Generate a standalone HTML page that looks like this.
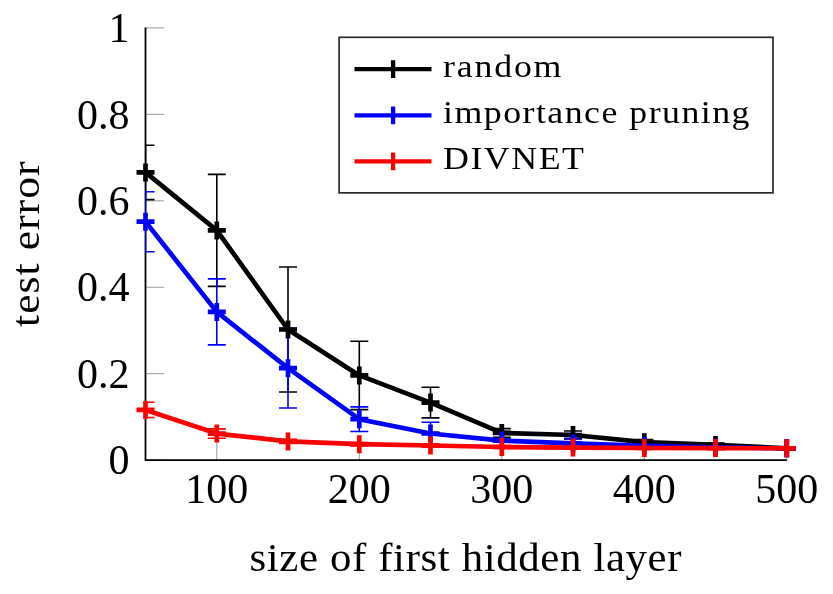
<!DOCTYPE html>
<html><head><meta charset="utf-8"><title>chart</title>
<style>html,body{margin:0;padding:0;background:#fff}body{width:833px;height:594px;position:relative;overflow:hidden;font-family:"Liberation Serif",serif}</style>
</head><body>
<svg width="833" height="594" viewBox="0 0 833 594" style="position:absolute;left:0;top:0;will-change:transform">
<defs><clipPath id="c"><rect x="145.2" y="27.95" width="644.3" height="432.2"/></clipPath></defs>
<path d="M145.5 460.1H164.2M145.5 373.7H164.2M145.5 287.3H164.2M145.5 200.8H164.2M145.5 114.4H164.2M145.5 27.9H164.2M216.8 460.15V441.45M359.3 460.15V441.45M501.8 460.15V441.45M644.3 460.15V441.45M786.8 460.15V441.45" stroke="#808080" stroke-width="0.8" fill="none"/>
<path d="M145.5 27.55V460.15H786.8" stroke="#000" stroke-width="1.8" fill="none" stroke-linecap="butt" stroke-linejoin="round"/>
<polyline points="145.5,172.4 216.8,230.4 288.0,329.5 359.3,375.4 430.5,402.6 501.8,432.9 573.0,435.0 644.3,442.2 715.5,444.9 786.8,448.3" stroke="#000000" stroke-width="4.7" fill="none" stroke-linejoin="round" clip-path="url(#c)"/>
<path d="M145.5 145.2V199.6M136.5 145.2H154.5M136.5 199.6H154.5M216.8 174.4V286.4M207.8 174.4H225.8M207.8 286.4H225.8M288.0 267.0V392.0M279.0 267.0H297.0M279.0 392.0H297.0M359.3 341.2V409.6M350.3 341.2H368.3M350.3 409.6H368.3M430.5 387.3V417.9M421.5 387.3H439.5M421.5 417.9H439.5M501.8 428.6V437.2M492.8 428.6H510.8M492.8 437.2H510.8M573.0 431.0V439.0M564.0 431.0H582.0M564.0 439.0H582.0M644.3 439.6V444.8M635.3 439.6H653.3M635.3 444.8H653.3M715.5 443.3V446.5M706.5 443.3H724.5M706.5 446.5H724.5M786.8 447.5V449.1M777.8 447.5H795.8M777.8 449.1H795.8" stroke="#000000" stroke-width="1.6" fill="none" clip-path="url(#c)"/>

<polyline points="145.5,221.7 216.8,311.9 288.0,368.2 359.3,419.2 430.5,433.5 501.8,440.6 573.0,443.4 644.3,445.8 715.5,447.4 786.8,448.3" stroke="#0000ff" stroke-width="4.7" fill="none" stroke-linejoin="round" clip-path="url(#c)"/>
<path d="M145.5 191.7V251.7M136.5 191.7H154.5M136.5 251.7H154.5M216.8 278.9V344.9M207.8 278.9H225.8M207.8 344.9H225.8M288.0 328.4V408.0M279.0 328.4H297.0M279.0 408.0H297.0M359.3 406.9V431.5M350.3 406.9H368.3M350.3 431.5H368.3M430.5 422.2V444.8M421.5 422.2H439.5M421.5 444.8H439.5M501.8 439.1V442.1M492.8 439.1H510.8M492.8 442.1H510.8M573.0 438.6V448.2M564.0 438.6H582.0M564.0 448.2H582.0M644.3 444.3V447.3M635.3 444.3H653.3M635.3 447.3H653.3M715.5 446.4V448.4M706.5 446.4H724.5M706.5 448.4H724.5M786.8 447.8V448.8M777.8 447.8H795.8M777.8 448.8H795.8" stroke="#0000ff" stroke-width="1.6" fill="none" clip-path="url(#c)"/>

<polyline points="145.5,409.9 216.8,433.6 288.0,441.4 359.3,444.2 430.5,445.5 501.8,447.0 573.0,447.6 644.3,448.0 715.5,448.1 786.8,448.3" stroke="#ff0000" stroke-width="4.7" fill="none" stroke-linejoin="round" clip-path="url(#c)"/>
<path d="M145.5 402.3V417.5M136.5 402.3H154.5M136.5 417.5H154.5M216.8 428.9V438.3M207.8 428.9H225.8M207.8 438.3H225.8M288.0 439.4V443.4M279.0 439.4H297.0M279.0 443.4H297.0M359.3 442.7V445.7M350.3 442.7H368.3M350.3 445.7H368.3M430.5 444.3V446.7M421.5 444.3H439.5M421.5 446.7H439.5M501.8 446.0V448.0M492.8 446.0H510.8M492.8 448.0H510.8M573.0 446.8V448.4M564.0 446.8H582.0M564.0 448.4H582.0M644.3 447.4V448.6M635.3 447.4H653.3M635.3 448.6H653.3M715.5 447.6V448.6M706.5 447.6H724.5M706.5 448.6H724.5M786.8 447.9V448.7M777.8 447.9H795.8M777.8 448.7H795.8" stroke="#ff0000" stroke-width="1.6" fill="none" clip-path="url(#c)"/>

<path d="M136.5 172.4H154.5M145.5 163.4V181.4M207.8 230.4H225.8M216.8 221.4V239.4M279.0 329.5H297.0M288.0 320.5V338.5M350.3 375.4H368.3M359.3 366.4V384.4M421.5 402.6H439.5M430.5 393.6V411.6M492.8 432.9H510.8M501.8 423.9V441.9M564.0 435.0H582.0M573.0 426.0V444.0M635.3 442.2H653.3M644.3 433.2V451.2M706.5 444.9H724.5M715.5 435.9V453.9M777.8 448.3H795.8M786.8 439.3V457.3" stroke="#000000" stroke-width="4.7" fill="none"/>

<path d="M136.5 221.7H154.5M145.5 212.7V230.7M207.8 311.9H225.8M216.8 302.9V320.9M279.0 368.2H297.0M288.0 359.2V377.2M350.3 419.2H368.3M359.3 410.2V428.2M421.5 433.5H439.5M430.5 424.5V442.5M492.8 440.6H510.8M501.8 431.6V449.6M564.0 443.4H582.0M573.0 434.4V452.4M635.3 445.8H653.3M644.3 436.8V454.8M706.5 447.4H724.5M715.5 438.4V456.4M777.8 448.3H795.8M786.8 439.3V457.3" stroke="#0000ff" stroke-width="4.7" fill="none"/>

<path d="M136.5 409.9H154.5M145.5 400.9V418.9M207.8 433.6H225.8M216.8 424.6V442.6M279.0 441.4H297.0M288.0 432.4V450.4M350.3 444.2H368.3M359.3 435.2V453.2M421.5 445.5H439.5M430.5 436.5V454.5M492.8 447.0H510.8M501.8 438.0V456.0M564.0 447.6H582.0M573.0 438.6V456.6M635.3 448.0H653.3M644.3 439.0V457.0M706.5 448.1H724.5M715.5 439.1V457.1M777.8 448.3H795.8M786.8 439.3V457.3" stroke="#ff0000" stroke-width="4.7" fill="none"/>

<rect x="339.1" y="37.3" width="433.9" height="155.55" fill="none" stroke="#2a2a2a" stroke-width="1.7"/>
<path d="M354.5 69.1H431.5M393.1 60.199999999999996V78.0" stroke="#000" stroke-width="4.3" fill="none"/>
<path d="M354.5 115.3H431.5M393.1 106.39999999999999V124.2" stroke="#00f" stroke-width="4.3" fill="none"/>
<path d="M354.5 161.4H431.5M393.1 152.5V170.3" stroke="#f00" stroke-width="4.3" fill="none"/>
<text style="filter:grayscale(1)" transform="translate(443.0,76.7) scale(1.12,1.0)" font-size="32" text-anchor="start" font-family="Liberation Serif, serif" textLength="105.80" lengthAdjust="spacing" >random</text>
<text style="filter:grayscale(1)" transform="translate(443.0,122.9) scale(1.12,1.0)" font-size="32" text-anchor="start" font-family="Liberation Serif, serif" textLength="273.66" lengthAdjust="spacing" >importance pruning</text>
<text style="filter:grayscale(1)" transform="translate(443.0,168.9) scale(1.12,1.0)" font-size="32" text-anchor="start" font-family="Liberation Serif, serif" textLength="125.89" lengthAdjust="spacing" >DIVNET</text>
<text style="filter:grayscale(1)" transform="translate(129.5,474.2) scale(1.05,1.07)" font-size="40" text-anchor="end" font-family="Liberation Serif, serif" >0</text>
<text style="filter:grayscale(1)" transform="translate(129.5,387.8) scale(1.05,1.07)" font-size="40" text-anchor="end" font-family="Liberation Serif, serif" >0.2</text>
<text style="filter:grayscale(1)" transform="translate(129.5,301.4) scale(1.05,1.07)" font-size="40" text-anchor="end" font-family="Liberation Serif, serif" >0.4</text>
<text style="filter:grayscale(1)" transform="translate(129.5,214.9) scale(1.05,1.07)" font-size="40" text-anchor="end" font-family="Liberation Serif, serif" >0.6</text>
<text style="filter:grayscale(1)" transform="translate(129.5,128.5) scale(1.05,1.07)" font-size="40" text-anchor="end" font-family="Liberation Serif, serif" >0.8</text>
<text style="filter:grayscale(1)" transform="translate(129.5,42.0) scale(1.05,1.07)" font-size="40" text-anchor="end" font-family="Liberation Serif, serif" >1</text>
<text style="filter:grayscale(1)" transform="translate(216.8,502.7) scale(1.05,1.07)" font-size="40" text-anchor="middle" font-family="Liberation Serif, serif" >100</text>
<text style="filter:grayscale(1)" transform="translate(359.3,502.7) scale(1.05,1.07)" font-size="40" text-anchor="middle" font-family="Liberation Serif, serif" >200</text>
<text style="filter:grayscale(1)" transform="translate(501.8,502.7) scale(1.05,1.07)" font-size="40" text-anchor="middle" font-family="Liberation Serif, serif" >300</text>
<text style="filter:grayscale(1)" transform="translate(644.3,502.7) scale(1.05,1.07)" font-size="40" text-anchor="middle" font-family="Liberation Serif, serif" >400</text>
<text style="filter:grayscale(1)" transform="translate(786.8,502.7) scale(1.05,1.07)" font-size="40" text-anchor="middle" font-family="Liberation Serif, serif" >500</text>
<text style="filter:grayscale(1)" transform="translate(249.5,571.2) scale(1.07,1.0)" font-size="40" text-anchor="start" font-family="Liberation Serif, serif" textLength="403.74" lengthAdjust="spacing" >size of first hidden layer</text>
<text style="filter:grayscale(1)" transform="translate(38.9,327.0) rotate(-90) scale(1.09,1)" font-size="40" font-family="Liberation Serif, serif" textLength="151.83" lengthAdjust="spacing">test error</text>
</svg>
</body></html>
